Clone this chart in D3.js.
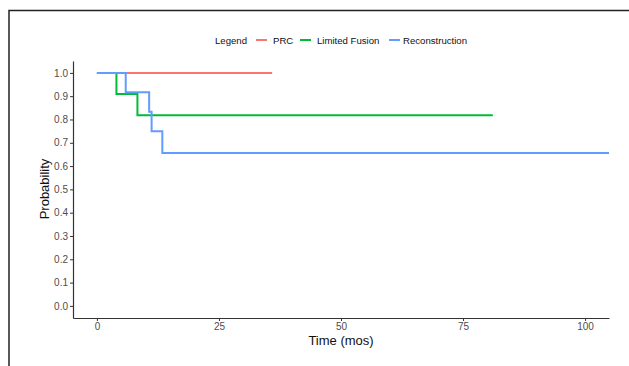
<!DOCTYPE html>
<html><head><meta charset="utf-8">
<script src="https://cdn.jsdelivr.net/npm/d3@7"></script>
<style>body{margin:0;background:#fff}svg{display:block}</style>
</head><body>
<svg id="c" width="629" height="366"></svg>
<script>
const seriesNames = ["PRC", "Limited Fusion", "Reconstruction"];
const seriesColors = ["#F8766D", "#00BA38", "#619CFF"];
// step curves: [time, survival probability]
const prcTimes = [0, 35.9];
const prcSurv = [1.0, 1.0];
const fusionTimes = [0, 4.0, 8.3, 81.1];
const fusionSurv = [1.0, 0.909, 0.818, 0.818];
const reconTimes = [0, 5.9, 10.7, 11.2, 13.4, 104.9];
const reconSurv = [1.0, 0.917, 0.833, 0.75, 0.656, 0.656];
const xTicks = [0, 25, 50, 75, 100];
const yTicks = [0, 0.1, 0.2, 0.3, 0.4, 0.5, 0.6, 0.7, 0.8, 0.9, 1.0];

const svg = d3.select("#c");
const font = "'Liberation Sans', Arial, sans-serif";

// outer frame (top & left)
svg.append("path").attr("d", "M9,366 V10.5 H629").attr("fill", "none").attr("stroke", "#222").attr("stroke-width", 1.5);

const x = d3.scaleLinear().domain([-4.9, 104.9]).range([73, 609]);
const y = d3.scaleLinear().domain([-0.052, 1.051]).range([318, 61]);

const xa = svg.append("g").attr("transform", "translate(0,318)")
  .call(d3.axisBottom(x).tickValues(xTicks).tickSize(3).tickPadding(2).tickSizeOuter(0));
const ya = svg.append("g").attr("transform", "translate(73,0)")
  .call(d3.axisLeft(y).tickValues(yTicks).tickFormat(d3.format(".1f")).tickSize(3).tickPadding(2).tickSizeOuter(0));
[xa, ya].forEach(g => {
  g.select(".domain").attr("stroke", "#333").attr("stroke-width", 1.2);
  g.selectAll(".tick line").attr("stroke", "#333");
  g.selectAll(".tick text").attr("fill", "#4d4d4d").style("font-family", font).style("font-size", "10px");
});

const datasets = [
  [prcTimes, prcSurv],
  [fusionTimes, fusionSurv],
  [reconTimes, reconSurv]
];
const line = d3.line().x(d => x(d[0])).y(d => y(d[1])).curve(d3.curveStepAfter);
datasets.forEach(([t, s], i) => {
  svg.append("path").datum(t.map((v, j) => [v, s[j]]))
    .attr("d", line).attr("fill", "none")
    .attr("stroke", seriesColors[i]).attr("stroke-width", 2);
});

// axis titles
svg.append("text").attr("x", 341).attr("y", 345).attr("text-anchor", "middle")
  .style("font-family", font).style("font-size", "13px").attr("fill", "#111").text("Time (mos)");
svg.append("text").attr("transform", "translate(49,189) rotate(-90)").attr("text-anchor", "middle")
  .style("font-family", font).style("font-size", "13px").attr("fill", "#111").text("Probability");

// legend
const lg = svg.append("g").style("font-family", font).style("font-size", "9.6px");
lg.append("text").attr("x", 215).attr("y", 43.5).attr("fill", "#111").text("Legend");
const legX = [[256, 273], [300, 317], [389, 403]];
seriesNames.forEach((n, i) => {
  lg.append("line").attr("x1", legX[i][0]).attr("x2", legX[i][0] + 11).attr("y1", 40).attr("y2", 40)
    .attr("stroke", seriesColors[i]).attr("stroke-width", 2);
  lg.append("text").attr("x", legX[i][1]).attr("y", 43.5).attr("fill", "#111").text(n);
});
</script>
</body></html>
